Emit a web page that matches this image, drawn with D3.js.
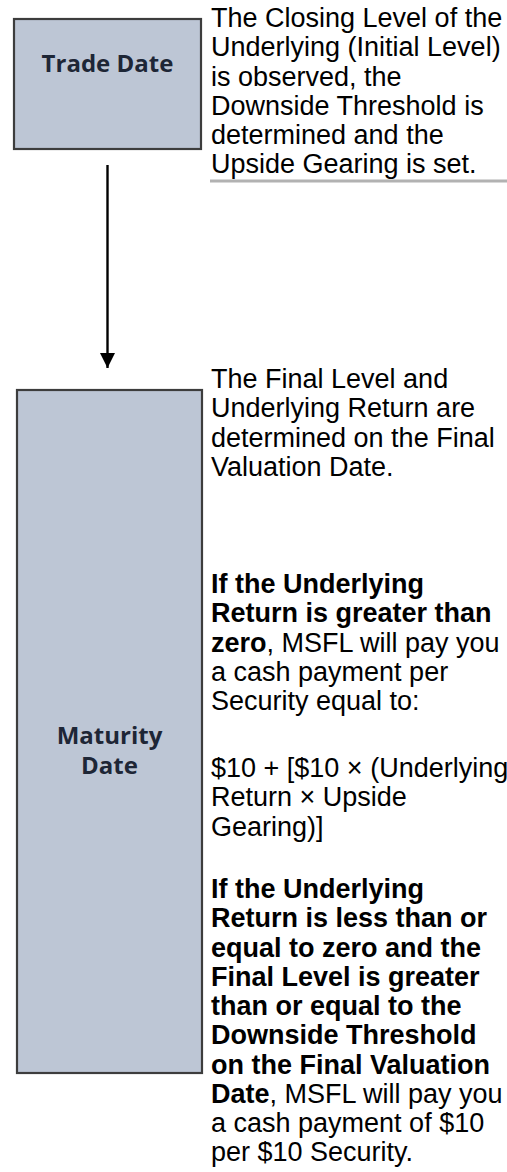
<!DOCTYPE html>
<html>
<head>
<meta charset="utf-8">
<script src="https://cdn.jsdelivr.net/npm/d3@7"></script>
<style>
  html, body { margin: 0; padding: 0; background: #fff; }
  svg { display: block; }
</style>
</head>
<body>
<div id="chart"></div>
<script>
// Stages of the timeline (box labels, one entry per line)
const stageNames = ["Trade Date", "Maturity Date"];
const stageLabelLines = [["Trade Date"], ["Maturity", "Date"]];

// Explanatory text. "*...*" marks bold runs.
const tradeDateText = [
    "The Closing Level of the",
    "Underlying (Initial Level)",
    "is observed, the",
    "Downside Threshold is",
    "determined and the",
    "Upside Gearing is set."
];
const finalLevelText = [
    "The Final Level and",
    "Underlying Return are",
    "determined on the Final",
    "Valuation Date."
];
const upsideText = [
    "*If the Underlying*",
    "*Return is greater than*",
    "*zero*, MSFL will pay you",
    "a cash payment per",
    "Security equal to:"
];
const upsideFormula = [
    "$10 + [$10 × (Underlying",
    "Return × Upside",
    "Gearing)]"
];
const downsideText = [
    "*If the Underlying*",
    "*Return is less than or*",
    "*equal to zero and the*",
    "*Final Level is greater*",
    "*than or equal to the*",
    "*Downside Threshold*",
    "*on the Final Valuation*",
    "*Date*, MSFL will pay you",
    "a cash payment of $10",
    "per $10 Security."
];

const W = 507, H = 1172;

// layout
const boxes = [
    { name: stageNames[0], x0: 14, y0: 19, x1: 201, y1: 149, labelY: 72 },
    { name: stageNames[1], x0: 17, y0: 390, x1: 202, y1: 1073, labelY: 744 }
];
const textBlocks = [
    { lines: tradeDateText, y: 27 },
    { lines: finalLevelText, y: 388 },
    { lines: upsideText, y: 593 },
    { lines: upsideFormula, y: 777 },
    { lines: downsideText, y: 898 }
];
const textX = 211;
const lineH = 29.25;
const labelLineH = 30;

const svg = d3.select("#chart").append("svg")
    .attr("width", W)
    .attr("height", H);

// boxes
svg.selectAll("rect.stage")
    .data(boxes)
    .enter()
    .append("rect")
    .attr("class", "stage")
    .attr("x", d => d.x0)
    .attr("y", d => d.y0)
    .attr("width", d => d.x1 - d.x0)
    .attr("height", d => d.y1 - d.y0)
    .attr("fill", "#bdc6d5")
    .attr("stroke", "#3d3d3d")
    .attr("stroke-width", 2.2);

// box labels
svg.selectAll("text.stage-label")
    .data(boxes)
    .enter()
    .append("text")
    .attr("class", "stage-label")
    .attr("text-anchor", "middle")
    .attr("font-family", "'Open Sans', sans-serif")
    .attr("font-weight", 700)
    .attr("font-size", "24px")
    .attr("fill", "#1e2636")
    .each(function(d, i) {
        const cx = (d.x0 + d.x1) / 2;
        d3.select(this).selectAll("tspan")
            .data(stageLabelLines[i])
            .enter()
            .append("tspan")
            .attr("x", cx)
            .attr("y", (t, j) => d.labelY + j * labelLineH)
            .text(t => t);
    });

// arrow between the boxes
const arrowX = 107.5;
const defs = svg.append("defs");
defs.append("marker")
    .attr("id", "head")
    .attr("viewBox", "0 0 10 10")
    .attr("refX", 10)
    .attr("refY", 5)
    .attr("markerUnits", "userSpaceOnUse")
    .attr("markerWidth", 15)
    .attr("markerHeight", 15)
    .attr("orient", "auto")
    .append("path")
    .attr("d", "M0,0 L10,5 L0,10 Z")
    .attr("fill", "#000");

svg.append("line")
    .attr("x1", arrowX)
    .attr("y1", 165)
    .attr("x2", arrowX)
    .attr("y2", 368)
    .attr("stroke", "#000")
    .attr("stroke-width", 2.4)
    .attr("marker-end", "url(#head)");

// gray rule under the first text block
svg.append("line")
    .attr("x1", 210)
    .attr("x2", W)
    .attr("y1", 181)
    .attr("y2", 181)
    .attr("stroke", "#b2b2b2")
    .attr("stroke-width", 3);

// text blocks
const parse = s => s.split("*")
    .map((t, i) => ({ t, bold: i % 2 === 1 }))
    .filter(p => p.t.length > 0);

textBlocks.forEach(block => {
    const g = svg.append("g");
    block.lines.forEach((line, i) => {
        const txt = g.append("text")
            .attr("x", textX)
            .attr("y", block.y + i * lineH)
            .attr("font-family", "'Liberation Sans', Arial, sans-serif")
            .attr("font-size", "27px")
            .attr("fill", "#000");
        txt.selectAll("tspan")
            .data(parse(line))
            .enter()
            .append("tspan")
            .attr("font-weight", p => p.bold ? 700 : 400)
            .text(p => p.t);
    });
});
</script>
</body>
</html>
